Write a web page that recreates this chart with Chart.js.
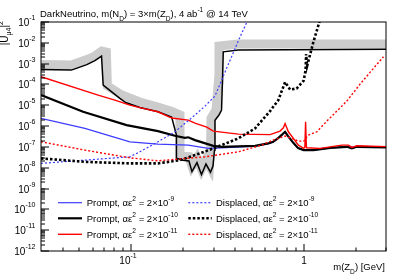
<!DOCTYPE html>
<html><head><meta charset="utf-8">
<script src="https://cdn.jsdelivr.net/npm/chart.js@4/dist/chart.umd.min.js"></script>
<style>html,body{margin:0;padding:0;background:#fff}#wrap{width:407px;height:279px}</style>
</head><body><div id="wrap"><canvas id="c" width="407" height="279"></canvas></div>
<script>
// ---------- data (m(Z_D) in GeV, |U_mu4|^2) ----------
const existingMass = [0.03, 0.045, 0.0553, 0.0616, 0.0673, 0.0688, 0.086, 0.093, 0.1123, 0.1429, 0.1716, 0.1829, 0.1829, 0.1995, 0.2162, 0.225, 0.2406, 0.2555, 0.2714, 0.2882, 0.2979, 0.304, 0.306, 0.3228, 0.3339, 0.3382, 0.3418, 0.4178, 3.0];
const existingU    = [5.3e-4, 4.9e-4, 9.0e-4, 1.38e-3, 2.3e-3, 9.4e-5, 2.15e-5, 1.35e-5, 7.75e-6, 4.87e-6, 2.7e-6, 3.7e-7, 2.9e-8, 2.3e-8, 2.1e-8, 6.5e-9, 1.76e-8, 4.7e-9, 1.5e-8, 6.1e-9, 1.2e-8, 7.0e-8, 1.9e-6, 3.4e-6, 5.9e-6, 1.6e-4, 3.7e-3, 4.5e-3, 4.9e-3];
const bandMass = [0.03, 0.045, 0.0553, 0.0616, 0.0676, 0.0718, 0.0728, 0.0883, 0.1123, 0.1429, 0.1722, 0.1918, 0.1918, 0.2162, 0.225, 0.2406, 0.2555, 0.2714, 0.2844, 0.2882, 0.2902, 0.3101, 0.3206, 0.3228, 0.4162, 3.0];
const bandU    = [9.0e-4, 8.6e-4, 1.57e-3, 2.32e-3, 4.0e-3, 3.6e-3, 8.4e-5, 3.1e-5, 1.43e-5, 8.2e-6, 5.0e-6, 3.4e-6, 3.6e-8, 3.4e-8, 1.2e-8, 2.9e-8, 8.6e-9, 2.45e-8, 1.2e-8, 7.0e-8, 2.4e-6, 5.9e-6, 1.6e-4, 7.0e-3, 8.75e-3, 8.75e-3];

const promptBlueMass = [0.03, 0.0539, 0.0983, 0.1429, 0.2142, 0.2799, 0.3346, 0.5224, 0.6239, 0.6644, 0.7107, 0.7493, 0.78, 0.8118, 0.868, 0.928, 1.0, 1.138, 1.423, 1.779, 3.0];
const promptBlueU    = [2.34e-6, 7.75e-7, 1.76e-7, 1.36e-7, 1.22e-7, 8.48e-8, 9.05e-8, 1.09e-7, 1.44e-7, 1.7e-7, 2.6e-7, 3.8e-7, 5.2e-7, 3.2e-7, 1.6e-7, 8.7e-8, 7.0e-8, 7.0e-8, 9.0e-8, 1.0e-7, 9.4e-8];

const promptBlackMass = [0.03, 0.0526, 0.094, 0.1429, 0.1793, 0.2049, 0.2142, 0.2343, 0.2991, 0.3346, 0.5224, 0.6239, 0.6644, 0.7107, 0.7493, 0.78, 0.8118, 0.868, 0.928, 1.0, 1.138, 1.423, 1.779, 1.902, 2.033, 3.0];
const promptBlackU    = [3.1e-5, 4.87e-6, 1.12e-6, 5.75e-7, 3.42e-7, 2.74e-7, 2.9e-7, 2.12e-7, 1.13e-7, 1.01e-7, 1.13e-7, 1.47e-7, 1.76e-7, 2.65e-7, 3.9e-7, 5.32e-7, 3.3e-7, 1.61e-7, 8.75e-8, 7.02e-8, 7.02e-8, 9.05e-8, 1.01e-7, 8.48e-8, 1.01e-7, 9.46e-8];

const promptRedMass = [0.03, 0.0643, 0.0804, 0.0983, 0.1123, 0.1429, 0.1716, 0.2142, 0.2343, 0.274, 0.2991, 0.4178, 0.6383, 0.7295, 0.7624, 0.78, 0.815, 0.8713, 0.9316, 1.0, 1.016, 1.0257, 1.037, 1.245, 1.423, 1.664, 1.817, 1.902, 2.033, 3.0];
const promptRedU    = [2.34e-4, 3.09e-5, 1.78e-5, 1.02e-5, 7.75e-6, 4.87e-6, 2.43e-6, 1.94e-6, 1.39e-6, 8.95e-7, 5.75e-7, 4.12e-7, 3.9e-7, 5.75e-7, 8.28e-7, 1.32e-6, 5.32e-7, 2.56e-7, 1.22e-7, 8.48e-8, 9.8e-8, 1.61e-6, 9.05e-8, 8.48e-8, 1.01e-7, 1.22e-7, 1.22e-7, 9.46e-8, 1.13e-7, 1.03e-7];

const displacedBlueMass = [0.03, 0.0539, 0.0983, 0.1123, 0.1429, 0.1793, 0.2343, 0.2678, 0.306, 0.3578, 0.4274, 0.4774];
const displacedBlueU    = [1.61e-8, 2.32e-8, 3.34e-8, 5.81e-8, 1.76e-7, 5.32e-7, 3.38e-6, 9.15e-6, 2.77e-5, 6.14e-4, 1.9e-2, 0.139];

const displacedBlackMass = [0.03, 0.0539, 0.0983, 0.1429, 0.1918, 0.2343, 0.2991, 0.4178, 0.5224, 0.6383, 0.7131, 0.78, 0.8339, 0.9095, 1.0, 1.0257, 1.033, 1.0465, 1.138, 1.233, 1.279];
const displacedBlackU    = [2.8e-8, 1.92e-8, 1.61e-8, 1.61e-8, 2.32e-8, 4.04e-8, 8.48e-8, 2.56e-7, 7.75e-7, 5.26e-6, 1.78e-5, 1.3e-4, 5.69e-5, 6.35e-5, 1.54e-4, 4.92e-4, 2.9e-3, 7.67e-4, 1.09e-2, 0.1, 0.3];

const displacedRedMass = [0.03, 0.0539, 0.0983, 0.1429, 0.2678, 0.4178, 0.5713, 0.6644, 0.78, 0.8713, 0.93, 1.0, 1.061, 1.191, 1.362, 1.779, 2.125, 2.538, 2.901];
const displacedRedU    = [1.76e-7, 7.02e-8, 2.99e-8, 2.15e-8, 3.34e-8, 5.81e-8, 1.22e-7, 2.12e-7, 3.3e-7, 2.37e-7, 1.9e-7, 1.9e-7, 3.69e-7, 5.32e-7, 1.74e-6, 1.59e-5, 1.05e-4, 5.94e-4, 2.15e-3];

// ticks
const xMajorTicks = [0.1, 1];
const xMajorLabels = [[['10', 0], ['-1', 1]], [['1', 0]]];
const xMinorTicks = [0.04, 0.05, 0.06, 0.07, 0.08, 0.09, 0.2, 0.3, 0.4, 0.5, 0.6, 0.7, 0.8, 0.9, 2, 3];
const yTickPowers = [-1, -2, -3, -4, -5, -6, -7, -8, -9, -10, -11, -12];

// texts
const titleSegs = [['DarkNeutrino, m(N', 0], ['D', -1], [') = 3\u00d7m(Z', 0], ['D', -1], ['), 4 ab', 0], ['-1', 1], [' @ 14 TeV', 0]];
const yTitleSegs = [['|U', 0], ['\u03bc4', -1], ['|', 0], ['2', 1]];
const xTitleSegs = [['m(Z', 0], ['D', -1], [') [GeV]', 0]];
const legendKinds = ['Prompt', 'Displaced'];
const legendExponents = ['-9', '-10', '-11'];

const FAM = '"Liberation Sans", Arial, Helvetica, sans-serif';

function pts(ms, us) { return ms.map((m, i) => ({ x: m, y: us[i] })); }

const datasets = [
  { label: 'band', data: pts(bandMass, bandU), borderColor: '#cccccc', borderWidth: 9, borderJoinStyle: 'miter', order: 20 },
  { label: 'existing', data: pts(existingMass, existingU), borderColor: '#000', borderWidth: 1.5, order: 19 },
  { label: 'Prompt 2e-9', data: pts(promptBlueMass, promptBlueU), borderColor: '#3c3cff', borderWidth: 1.2, order: 18 },
  { label: 'Prompt 2e-10', data: pts(promptBlackMass, promptBlackU), borderColor: '#000', borderWidth: 2.2, order: 17 },
  { label: 'Prompt 2e-11', data: pts(promptRedMass, promptRedU), borderColor: '#ff0000', borderWidth: 1.4, order: 16 },
  { label: 'Displaced 2e-9', data: pts(displacedBlueMass, displacedBlueU), borderColor: '#3c3cff', borderWidth: 1.2, borderDash: [2, 2], order: 15 },
  { label: 'Displaced 2e-10', data: pts(displacedBlackMass, displacedBlackU), borderColor: '#000', borderWidth: 2.6, borderDash: [2.5, 2], order: 14 },
  { label: 'Displaced 2e-11', data: pts(displacedRedMass, displacedRedU), borderColor: '#ff0000', borderWidth: 1.4, borderDash: [2, 2], order: 13 }
];
datasets.forEach(d => { d.showLine = true; d.fill = false; d.pointRadius = 0; d.tension = 0; d.clip = 0; });

function segFont(size, mode) { return (mode ? size * 0.7 : size).toFixed(2) + 'px ' + FAM; }
function drawRich(ctx, segs, x, y, size, align, raise, lower) {
  raise = raise == null ? size * 0.45 : raise;
  lower = lower == null ? size * 0.4 : lower;
  let w = 0;
  segs.forEach(s => { ctx.font = segFont(size, s[1]); w += ctx.measureText(s[0]).width; });
  let cx = align === 'right' ? x - w : align === 'center' ? x - w / 2 : x;
  ctx.textAlign = 'left'; ctx.textBaseline = 'alphabetic';
  segs.forEach(s => {
    ctx.font = segFont(size, s[1]);
    const dy = s[1] === 1 ? -raise : s[1] === -1 ? lower : 0;
    ctx.fillText(s[0], cx, y + dy);
    cx += ctx.measureText(s[0]).width;
  });
  return w;
}
function seg(ctx, x1, y1, x2, y2) { ctx.beginPath(); ctx.moveTo(x1, y1); ctx.lineTo(x2, y2); ctx.stroke(); }

const rootPlugin = {
  id: 'rootText',
  afterDraw(chart) {
    const { ctx, chartArea: a, scales: { x, y } } = chart;
    ctx.save();
    ctx.fillStyle = '#000';
    ctx.strokeStyle = '#000'; ctx.lineWidth = 1; ctx.setLineDash([]);
    ctx.strokeRect(a.left, a.top, a.right - a.left, a.bottom - a.top);
    // y ticks
    yTickPowers.forEach(p => {
      for (let j = 1; j <= 9; j++) {
        const v = j * Math.pow(10, p);
        if (v > y.max * 1.0001 || v < y.min * 0.9999) continue;
        const py = Math.round(y.getPixelForValue(v));
        seg(ctx, a.left, py, a.left + (j === 1 ? 8 : 4), py);
      }
      const py = y.getPixelForValue(Math.pow(10, p));
      drawRich(ctx, [['10', 0], [String(p), 1]], 35.5, py + 4, 10, 'right', 6);
    });
    // x ticks
    xMinorTicks.forEach(v => { const px = Math.round(x.getPixelForValue(v)); seg(ctx, px, a.bottom, px, a.bottom - 3.5); });
    xMajorTicks.forEach((v, i) => {
      const px = Math.round(x.getPixelForValue(v));
      seg(ctx, px, a.bottom, px, a.bottom - 7);
      drawRich(ctx, xMajorLabels[i], px - (xMajorLabels[i].length > 1 ? 3 : 0), 263.5, 10, 'center', 5.5);
    });
    // titles
    drawRich(ctx, titleSegs, 40, 16.8, 9.5, 'left', 5, 4.5);
    drawRich(ctx, xTitleSegs, 385, 270, 9.5, 'right', 5, 3.5);
    ctx.save();
    ctx.translate(7.5, 21);
    ctx.rotate(-Math.PI / 2);
    drawRich(ctx, yTitleSegs, 0, 0, 10, 'right', 4.5, 3);
    ctx.restore();
    // legend
    const rows = [202.7, 218.3, 234.3];
    const cols = [{ x1: 58, x2: 82, tx: 86.7 }, { x1: 188.3, x2: 211.7, tx: 216 }];
    for (let c = 0; c < 2; c++) {
      for (let r = 0; r < 3; r++) {
        const ds = datasets[2 + c * 3 + r];
        ctx.strokeStyle = ds.borderColor; ctx.lineWidth = ds.borderWidth;
        ctx.setLineDash(ds.borderDash || []);
        seg(ctx, cols[c].x1, rows[r], cols[c].x2, rows[r]);
        ctx.setLineDash([]);
        ctx.fillStyle = '#000';
        drawRich(ctx, [[legendKinds[c] + ', \u03b1\u03b5', 0], ['2', 1], [' = 2\u00d710', 0], [legendExponents[r], 1]],
          cols[c].tx, rows[r] + 3.2, 9.5, 'left', 5);
      }
    }
    ctx.restore();
  }
};

new Chart(document.getElementById('c'), {
  type: 'scatter',
  data: { datasets },
  options: {
    responsive: false, animation: false, devicePixelRatio: 1,
    layout: { padding: { top: 22, right: 21, left: 0, bottom: 0 } },
    plugins: { legend: { display: false }, tooltip: { enabled: false }, title: { display: false } },
    scales: {
      x: { type: 'logarithmic', min: 0.03, max: 3, grid: { display: false }, border: { display: false }, ticks: { display: false },
           afterFit: s => { s.height = 28; } },
      y: { type: 'logarithmic', min: 1e-12, max: 0.1, grid: { display: false }, border: { display: false }, ticks: { display: false },
           afterFit: s => { s.width = 41; } }
    }
  },
  plugins: [rootPlugin]
});
</script>
</body></html>
